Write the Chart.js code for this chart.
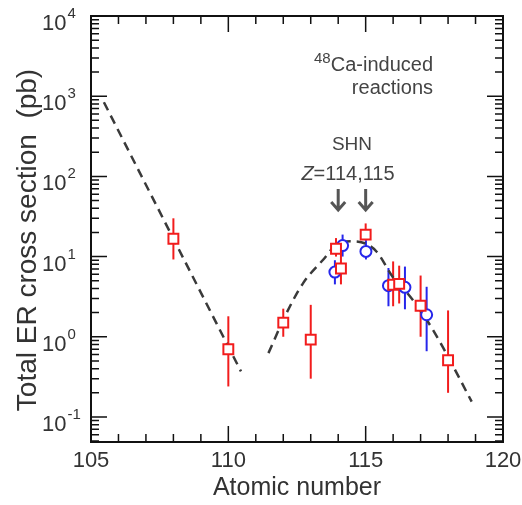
<!DOCTYPE html>
<html>
<head>
<meta charset="utf-8">
<script src="https://cdn.jsdelivr.net/npm/chart.js@4.4.1/dist/chart.umd.min.js"></script>
<style>
  body { margin: 0; background: #fff; }
  canvas { display: block; }
</style>
</head>
<body>
<canvas id="chart" width="522" height="505"></canvas>
<script>
// red squares
const redZ = [108, 110, 112, 113, 113.92, 114.1, 115, 116.0, 116.22, 117, 118]
const redSigma = [16.7, 0.70, 1.5, 0.92, 12.5, 7.1, 18.8, 4.46, 4.56, 2.44, 0.51]
const redLow = [9.2, 0.24, 1.0, 0.3, 10, 4.5, 16, 2.4, 2.6, 1.0, 0.2]
const redHigh = [30, 1.8, 2.24, 2.5, 17, 11, 25.9, 8.7, 7.7, 5.8, 2.13]

// blue circles
const blueZ = [113.88, 114.16, 115.01, 115.83, 116.43, 117.22]
const blueSigma = [6.4, 13.7, 11.6, 4.34, 4.13, 1.88]
const blueLow = [4.5, 10, 9.2, 2.4, 2.2, 0.66]
const blueHigh = [9, 18.8, 16, 7.2, 7.5, 4.2]

// dashed guide curves
const leftCurveZ = [105.47, 108, 110.46]
const leftCurveSigma = [840, 16.7, 0.37]
const rightCurveZ = [111.46, 112.12, 112.73, 113.46, 113.94, 114.55, 115.0, 115.4, 116.0, 116.61, 117.22, 117.83, 118.86]
const rightCurveSigma = [0.625, 1.98, 4.7, 9.2, 14.1, 15.5, 14.5, 11.5, 5.5, 3.2, 1.63, 0.72, 0.155]

// axes
const xTicks = [105, 110, 115, 120]
const yDecades = [-1, 0, 1, 2, 3, 4]
const arrowZ = [114, 115]

const red = 'rgb(242,28,28)'
const blue = 'rgb(38,38,235)'
const ink = '#333'

function pts(xs, ys) {
    return xs.map((x, i) => ({ x: x, y: ys[i] }))
}

const decor = {
    id: 'decor',
    beforeDatasetsDraw(chart) {
        const { ctx, chartArea, scales } = chart
        const xs = scales.x, ys = scales.y
        ctx.save()
        ctx.beginPath()
        ctx.rect(chartArea.left, chartArea.top, chartArea.right - chartArea.left, chartArea.bottom - chartArea.top)
        ctx.clip()
        ctx.lineWidth = 2
        const bars = [[blueZ, blueLow, blueHigh, blue], [redZ, redLow, redHigh, red]]
        for (const [z, lo, hi, col] of bars) {
            ctx.strokeStyle = col
            for (let i = 0; i < z.length; i++) {
                const x = xs.getPixelForValue(z[i])
                ctx.beginPath()
                ctx.moveTo(x, ys.getPixelForValue(lo[i]))
                ctx.lineTo(x, ys.getPixelForValue(hi[i]))
                ctx.stroke()
            }
        }
        ctx.restore()
    },
    afterDraw(chart) {
        const { ctx, chartArea: a, scales } = chart
        const xs = scales.x, ys = scales.y
        ctx.save()
        ctx.strokeStyle = '#111'
        ctx.lineWidth = 2
        ctx.strokeRect(a.left, a.top, a.right - a.left, a.bottom - a.top)

        // inward ticks, x
        ctx.lineWidth = 1.5
        for (let v = 105; v <= 120; v++) {
            const x = xs.getPixelForValue(v)
            const len = v % 5 === 0 ? 16 : 8
            ctx.beginPath()
            ctx.moveTo(x, a.bottom); ctx.lineTo(x, a.bottom - len)
            ctx.moveTo(x, a.top); ctx.lineTo(x, a.top + len)
            ctx.stroke()
        }
        // inward ticks, y (log)
        for (let d = -2; d <= 4; d++) {
            for (let m = 1; m <= 9; m++) {
                const v = m * Math.pow(10, d)
                if (v < ys.min || v > ys.max) continue
                const y = ys.getPixelForValue(v)
                const len = m === 1 ? 16 : 8
                ctx.beginPath()
                ctx.moveTo(a.left, y); ctx.lineTo(a.left + len, y)
                ctx.moveTo(a.right, y); ctx.lineTo(a.right - len, y)
                ctx.stroke()
            }
        }

        // y tick labels 10^n
        ctx.fillStyle = ink
        ctx.textBaseline = 'alphabetic'
        ctx.textAlign = 'left'
        for (const d of yDecades) {
            const y = ys.getPixelForValue(Math.pow(10, d))
            ctx.font = '22px "Liberation Sans", Arial, sans-serif'
            ctx.fillText('10', 42, y + 14)
            const w = ctx.measureText('10').width
            ctx.font = '15px "Liberation Sans", Arial, sans-serif'
            ctx.fillText(d < 0 ? '-' + Math.abs(d) : String(d), 42 + w + 1, y + 2)
        }

        // y title
        ctx.save()
        ctx.translate(28, 240)
        ctx.rotate(-Math.PI / 2)
        ctx.textAlign = 'center'
        ctx.textBaseline = 'middle'
        ctx.font = '28px "Liberation Sans", Arial, sans-serif'
        ctx.fillText('Total ER cross section  (pb)', 0, 0)
        ctx.restore()

        // annotations
        ctx.fillStyle = '#444'
        ctx.textAlign = 'right'
        ctx.font = '20px "Liberation Sans", Arial, sans-serif'
        ctx.fillText('Ca-induced', 433, 71)
        const cw = ctx.measureText('Ca-induced').width
        ctx.fillText('reactions', 433, 94)
        ctx.font = '15px "Liberation Sans", Arial, sans-serif'
        ctx.fillText('48', 433 - cw, 63)

        ctx.textAlign = 'center'
        ctx.font = '19px "Liberation Sans", Arial, sans-serif'
        ctx.fillText('SHN', 352, 150)

        ctx.textAlign = 'left'
        ctx.font = 'italic 20px "Liberation Sans", Arial, sans-serif'
        const zw = ctx.measureText('Z').width
        ctx.font = '20px "Liberation Sans", Arial, sans-serif'
        const rest = '=114,115'
        const rw = ctx.measureText(rest).width
        const zx = 348 - (zw + rw) / 2
        ctx.font = 'italic 20px "Liberation Sans", Arial, sans-serif'
        ctx.fillText('Z', zx, 180)
        ctx.font = '20px "Liberation Sans", Arial, sans-serif'
        ctx.fillText(rest, zx + zw, 180)

        // arrows
        ctx.strokeStyle = '#555'
        ctx.lineWidth = 3
        ctx.lineCap = 'butt'
        for (const z of arrowZ) {
            const x = xs.getPixelForValue(z)
            ctx.beginPath()
            ctx.moveTo(x, 189); ctx.lineTo(x, 210)
            ctx.moveTo(x - 7, 202); ctx.lineTo(x, 210); ctx.lineTo(x + 7, 202)
            ctx.stroke()
        }
        ctx.restore()
    }
}

new Chart(document.getElementById('chart'), {
    type: 'scatter',
    data: {
        datasets: [
            {
                label: 'red',
                data: pts(redZ, redSigma),
                pointStyle: 'rect',
                pointRadius: 7,
                borderColor: red,
                backgroundColor: '#fff',
                borderWidth: 2,
                showLine: false
            },
            {
                label: 'blue',
                data: pts(blueZ, blueSigma),
                pointStyle: 'circle',
                pointRadius: 5.5,
                borderColor: blue,
                backgroundColor: '#fff',
                borderWidth: 2,
                showLine: false
            },
            {
                label: 'left fit',
                data: pts(leftCurveZ, leftCurveSigma),
                showLine: true,
                pointRadius: 0,
                borderColor: '#3a3a3a',
                borderWidth: 2.5,
                borderDash: [9, 6]
            },
            {
                label: 'right fit',
                data: pts(rightCurveZ, rightCurveSigma),
                showLine: true,
                pointRadius: 0,
                borderColor: '#3a3a3a',
                borderWidth: 2.5,
                borderDash: [9, 6],
                cubicInterpolationMode: 'monotone'
            }
        ]
    },
    options: {
        responsive: false,
        animation: false,
        layout: { padding: { top: 16, right: 19, left: 0, bottom: 0 } },
        plugins: { legend: { display: false }, tooltip: { enabled: false } },
        scales: {
            x: {
                type: 'linear',
                min: 105,
                max: 120,
                afterBuildTicks: s => { s.ticks = xTicks.map(v => ({ value: v })) },
                afterFit: s => { s.height = 63; s.paddingLeft = 0; s.paddingRight = 0 },
                grid: { display: false, drawTicks: false },
                border: { display: false },
                ticks: {
                    color: ink,
                    padding: 6,
                    maxRotation: 0,
                    font: { family: '"Liberation Sans", Arial, sans-serif', size: 22 }
                },
                title: {
                    display: true,
                    text: 'Atomic number',
                    color: ink,
                    padding: { top: 0, bottom: 2 },
                    font: { family: '"Liberation Sans", Arial, sans-serif', size: 25 }
                }
            },
            y: {
                type: 'logarithmic',
                min: 0.0487,
                max: 10000,
                afterFit: s => { s.width = 91; s.paddingTop = 0; s.paddingBottom = 0 },
                grid: { display: false, drawTicks: false },
                border: { display: false },
                ticks: { display: false }
            }
        }
    },
    plugins: [decor]
})
</script>
</body>
</html>
